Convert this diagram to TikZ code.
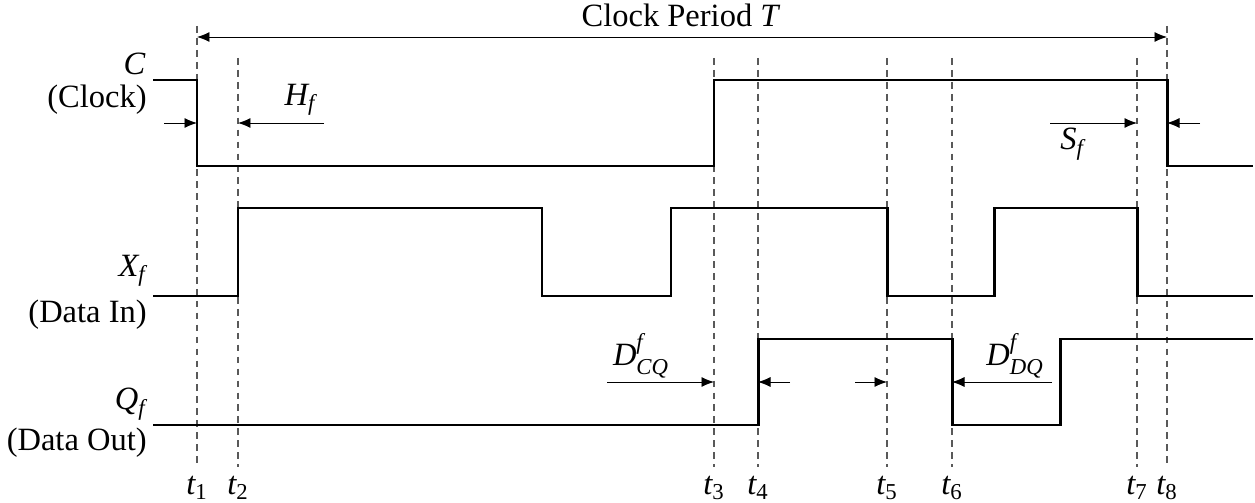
\documentclass[tikz,border=0pt]{standalone}
\usepackage{amsmath}
\usepackage{fontspec}
\setmainfont{Liberation Serif}
\usetikzlibrary{arrows.meta}

\begin{document}
\begin{tikzpicture}[x=0.02cm,y=-0.02cm,
    sig/.style={line width=1.7pt,line join=miter},
    guide/.style={gray!70!black,line width=0.6pt,dash pattern=on 3.8pt off 3pt},
    dim/.style={-{Latex[length=2.5mm,width=2mm]},line width=0.5pt},
    lbl/.style={font=\fontsize{18.5}{21}\selectfont,inner sep=0pt},
    sname/.style={lbl,anchor=east,align=right}
  ]
  \useasboundingbox (0,0) rectangle (1255,503);
  % time marks
  \foreach \n/\x/\y in {1/197/26,2/238/58,3/714/58,4/758/58,5/887/58,6/952/58,7/1137/58,8/1167/26}{
    \coordinate (g\n) at (\x,\y);
    \coordinate (b\n) at (\x,467);
    \draw[guide] (g\n) -- (b\n);
    \node[lbl] (t\n) at (\x,488) {$\textit{t}_{\text{\n}}$};
  }
  % clock period
  \coordinate (pl) at (197,37);
  \coordinate (pr) at (1167,37);
  \draw[{Latex[length=2.5mm,width=2mm]}-{Latex[length=2.5mm,width=2mm]},line width=0.5pt] (pl) -- (pr);
  \node[lbl] (per) at (681,15) {Clock Period \textit{T}};
  % signal names
  \node[sname] (clk) at (146,64) {\textit{C}};
  \node[sname] (clkname) at (147,100) {(Clock)};
  \node[sname] (din) at (146,271) {$\textit{X}_{\textit{f}}$};
  \node[sname] (dinname) at (147,315) {(Data In)};
  \node[sname] (dout) at (146,404) {$\textit{Q}_{\textit{f}}$};
  \node[sname] (doutname) at (147,443) {(Data Out)};
  % waveforms
  \draw[sig] (153,80) -| (197,166) -| (714,80) -| (1167,166) -- (1253,166);
  \draw[sig] (153,296) -| (238,208) -| (542,296) -| (671,208) -| (887,296) -| (994,208) -| (1137,296) -- (1253,296);
  \draw[sig] (153,425) -| (758,339) -| (952,425) -| (1060,339) -- (1253,339);
  % hold
  \coordinate (h1) at (164,123);
  \coordinate (h2) at (197,123);
  \coordinate (h3) at (324,123);
  \coordinate (h4) at (238,123);
  \draw[dim] (h1) -- (h2);
  \draw[dim] (h3) -- (h4);
  \node[lbl] (hold) at (300,100) {$\textit{H}_{\textit{f}}$};
  % setup
  \coordinate (s1) at (1050,123);
  \coordinate (s2) at (1137,123);
  \coordinate (s3) at (1200,123);
  \coordinate (s4) at (1167,123);
  \draw[dim] (s1) -- (s2);
  \draw[dim] (s3) -- (s4);
  \node[lbl] (setup) at (1072,144) {$\textit{S}_{\textit{f}}$};
  % clock to q
  \coordinate (c1) at (607,382);
  \coordinate (c2) at (714,382);
  \coordinate (c3) at (790,382);
  \coordinate (c4) at (758,382);
  \draw[dim] (c1) -- (c2);
  \draw[dim] (c3) -- (c4);
  \node[lbl] (dcq) at (641,356) {$\textit{D}^{\textit{f}}_{\textit{CQ}}$};
  % data to q
  \coordinate (d1) at (855,382);
  \coordinate (d2) at (887,382);
  \coordinate (d3) at (1052,382);
  \coordinate (d4) at (952,382);
  \draw[dim] (d1) -- (d2);
  \draw[dim] (d3) -- (d4);
  \node[lbl] (ddq) at (1015,356) {$\textit{D}^{\textit{f}}_{\textit{DQ}}$};
\end{tikzpicture}
\end{document}
